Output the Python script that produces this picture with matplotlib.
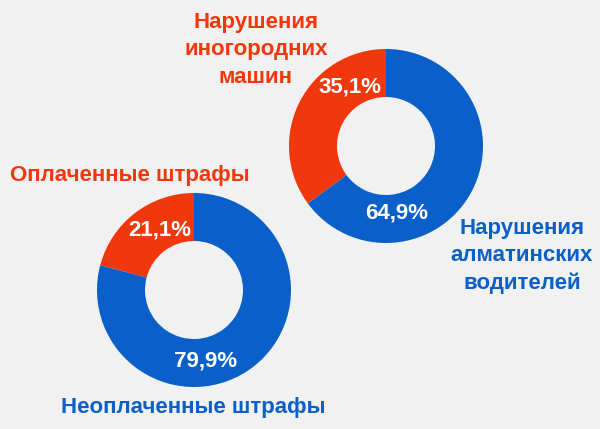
import matplotlib.pyplot as plt

plt.rcParams['font.family'] = ['Liberation Sans', 'DejaVu Sans']

# DATA
top_labels = ['Нарушения\nиногородних\nмашин', 'Нарушения\nалматинских\nводителей']
top_values = [35.1, 64.9]
bottom_labels = ['Оплаченные штрафы', 'Неоплаченные штрафы']
bottom_values = [21.1, 79.9]

RED = '#f0380c'
BLUE = '#0a60c8'
BG = '#f1f1f1'

fig = plt.figure(figsize=(6, 4.29), dpi=100, facecolor=BG)
ax = fig.add_axes([0, 0, 1, 1])
ax.set_facecolor(BG)

H = 429  # work in pixel coords, y measured from top

def donut(values, cx, cy):
    ax.pie(values, colors=[RED, BLUE], startangle=90, counterclock=True,
           center=(cx, H - cy), radius=97, frame=True,
           wedgeprops=dict(width=48, edgecolor='none'))

donut(top_values, 386, 146)
donut(bottom_values, 194, 290)
# pie() resets limits, put them back
ax.set_xlim(0, 600)
ax.set_ylim(0, 429)
ax.set_aspect('equal')
ax.axis('off')

def pct(v):
    return ('%.1f%%' % v).replace('.', ',')

# percentage labels
pct_pos_top = [(350, 87), (397, 213)]
pct_pos_bottom = [(160, 230), (206, 361)]
for v, (x, y) in zip(top_values, pct_pos_top):
    ax.text(x, H - y, pct(v), color='white', fontsize=16, fontweight='bold',
            ha='center', va='center')
for v, (x, y) in zip(bottom_values, pct_pos_bottom):
    ax.text(x, H - y, pct(v), color='white', fontsize=16, fontweight='bold',
            ha='center', va='center')

# category labels
ax.text(256, H - 50, top_labels[0], color=RED, fontsize=16, fontweight='bold',
        ha='center', va='center', linespacing=1.38)
ax.text(522, H - 256, top_labels[1], color=BLUE, fontsize=16, fontweight='bold',
        ha='center', va='center', linespacing=1.38)
ax.text(130, H - 175, bottom_labels[0], color=RED, fontsize=16, fontweight='bold',
        ha='center', va='center')
ax.text(193, H - 408, bottom_labels[1], color=BLUE, fontsize=16, fontweight='bold',
        ha='center', va='center')

fig.savefig('out.png', dpi=100, facecolor=BG)
